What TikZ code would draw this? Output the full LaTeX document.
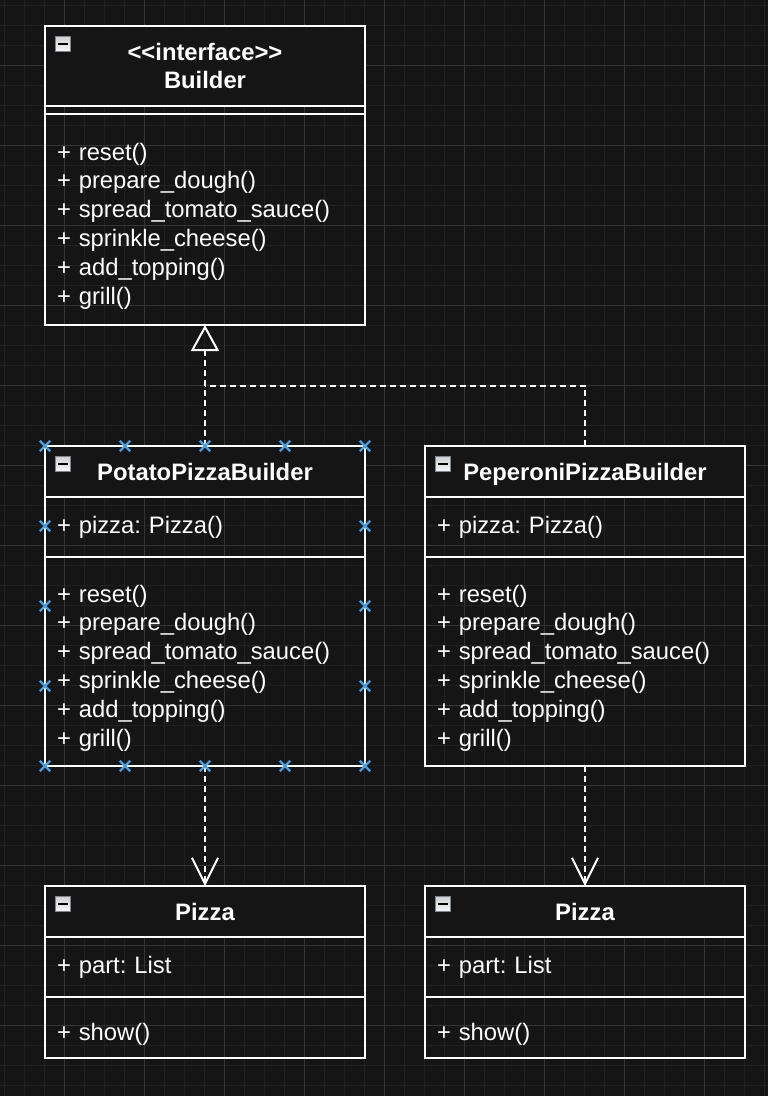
\documentclass[tikz,border=0pt]{standalone}
\usepackage{fontspec}
\setmainfont{Liberation Sans}
\usetikzlibrary{arrows.meta,calc,shapes.misc}
\frenchspacing

\definecolor{canvas}{HTML}{151515}
\definecolor{gridminor}{HTML}{212121}
\definecolor{gridmajor}{HTML}{353535}
\definecolor{selblue}{HTML}{4A9EE0}
\definecolor{iconedge}{HTML}{7B8594}

\newcommand{\umlfont}{\fontsize{23.8}{28.8}\selectfont}

\begin{document}
\begin{tikzpicture}[x=1pt,y=-1pt,
    head/.style={draw=white,line width=2pt,fill=canvas,text=white,outer sep=0pt,
      minimum width=320pt,minimum height=51pt,inner sep=0pt,align=center,
      font=\umlfont\bfseries,anchor=north},
    title/.style={head,text height=18.4pt,text depth=0pt},
    part/.style={draw=white,line width=2pt,text=white,outer sep=0pt,
      text width=296pt,inner xsep=12pt,inner ysep=0pt,align=left,
      font=\umlfont,anchor=north},
    ops/.style={part,execute at begin node={\rule{0pt}{30pt}}},
    gap/.style={draw=white,line width=2pt,outer sep=0pt,inner sep=0pt,
      minimum width=320pt,minimum height=8pt,anchor=north},
    icon/.style={draw=iconedge,line width=1.6pt,minimum size=15pt,inner sep=0pt,
      top color=white!82!black,bottom color=white!97!black,
      path picture={\draw[black,line width=2pt]
        ([xshift=-5pt]path picture bounding box.center) --
        ([xshift=5pt]path picture bounding box.center);}},
    grip/.style={cross out,draw=selblue,line width=2.3pt,minimum size=8pt,inner sep=0pt},
    dep/.style={draw=white,line width=2pt,dash pattern=on 6pt off 4pt},
    realize/.style={dep,-{Triangle[open,length=26pt,width=28pt]}},
    uses/.style={dep,-{Straight Barb[length=26pt,width=26pt]}}
  ]

  \fill[canvas] (0,0) rectangle (768,1096);
  \useasboundingbox (0,0) rectangle (768,1096);

  % grid
  \foreach \gx in {4,24,...,764} \draw[gridminor,line width=1pt] (\gx,0) -- (\gx,1096);
  \foreach \gy in {5,25,...,1085} \draw[gridminor,line width=1pt] (0,\gy) -- (768,\gy);
  \foreach \gx in {64,144,...,704} \draw[gridmajor,line width=1pt] (\gx,0) -- (\gx,1096);
  \foreach \gy in {65,145,...,1025} \draw[gridmajor,line width=1pt] (0,\gy) -- (768,\gy);

  % interface
  \node[head,minimum height=80pt] (builderHead) at (205,26) {<\kern0pt<interface>\kern0pt>\\Builder};
  \node[gap] (builderAttr) at (builderHead.south) {};
  \node[ops,minimum height=211pt] (builderOps) at (builderAttr.south)
    {+ reset()\\+ prepare\_dough()\\+ spread\_tomato\_sauce()\\+ sprinkle\_cheese()\\+ add\_topping()\\+ grill()};

  % builders
  \node[title] (potatoHead) at (205,446) {PotatoPizzaBuilder};
  \node[part,minimum height=60pt] (potatoAttr) at (potatoHead.south) {+ pizza: Pizza()};
  \node[ops,minimum height=209pt] (potatoOps) at (potatoAttr.south)
    {+ reset()\\+ prepare\_dough()\\+ spread\_tomato\_sauce()\\+ sprinkle\_cheese()\\+ add\_topping()\\+ grill()};

  \node[title] (peperoniHead) at (585,446) {PeperoniPizzaBuilder};
  \node[part,minimum height=60pt] (peperoniAttr) at (peperoniHead.south) {+ pizza: Pizza()};
  \node[ops,minimum height=209pt] (peperoniOps) at (peperoniAttr.south)
    {+ reset()\\+ prepare\_dough()\\+ spread\_tomato\_sauce()\\+ sprinkle\_cheese()\\+ add\_topping()\\+ grill()};

  % products
  \node[title] (pizzaAHead) at (205,886) {Pizza};
  \node[part,minimum height=60pt] (pizzaAAttr) at (pizzaAHead.south) {+ part: List};
  \node[ops,minimum height=61pt] (pizzaAOps) at (pizzaAAttr.south) {+ show()};

  \node[title] (pizzaBHead) at (585,886) {Pizza};
  \node[part,minimum height=60pt] (pizzaBAttr) at (pizzaBHead.south) {+ part: List};
  \node[ops,minimum height=61pt] (pizzaBOps) at (pizzaBAttr.south) {+ show()};

  % collapse icons
  \node[icon] (builderIcon)  at ($(builderHead.north west)+(18,18)$) {};
  \node[icon] (potatoIcon)   at ($(potatoHead.north west)+(18,18)$) {};
  \node[icon] (peperoniIcon) at ($(peperoniHead.north west)+(18,18)$) {};
  \node[icon] (pizzaAIcon)   at ($(pizzaAHead.north west)+(18,18)$) {};
  \node[icon] (pizzaBIcon)   at ($(pizzaBHead.north west)+(18,18)$) {};

  % relations
  \coordinate (merge) at ($(potatoHead.north)!.5!(builderOps.south)$);
  \draw[realize] (potatoHead.north) -- (builderOps.south);
  \draw[dep] (peperoniHead.north) |- (merge);
  \draw[uses] (potatoOps.south) -- (pizzaAHead.north);
  \draw[uses] (peperoniOps.south) -- (pizzaBHead.north);

  % selection handles
  \foreach \hx [count=\i] in {45,125,205,285,365} {
    \node[grip] (gripTop\i) at (\hx,446) {};
    \node[grip] (gripBot\i) at (\hx,766) {};
  }
  \foreach \hy [count=\i] in {526,606,686} {
    \node[grip] (gripLeft\i)  at (45,\hy) {};
    \node[grip] (gripRight\i) at (365,\hy) {};
  }

\end{tikzpicture}
\end{document}
